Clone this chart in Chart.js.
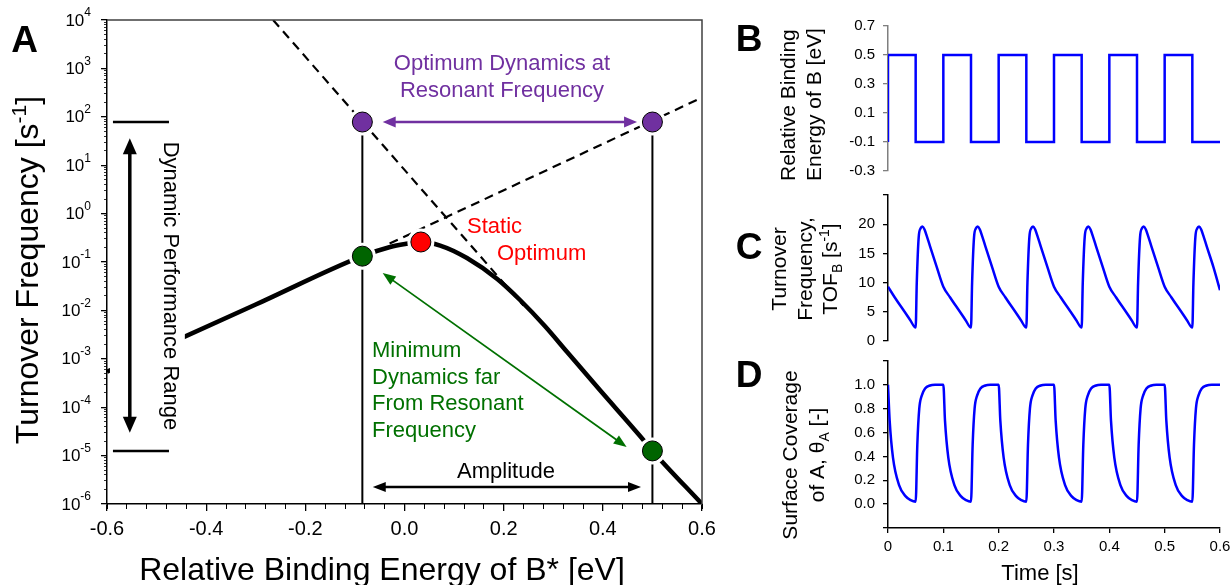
<!DOCTYPE html>
<html>
<head>
<meta charset="utf-8">
<script src="https://cdn.jsdelivr.net/npm/chart.js"></script>
<style>
  body { margin: 0; background: #fff; }
  #wrap { position: relative; width: 1232px; height: 585px; background: #fff; }
  canvas { position: absolute; }
</style>
</head>
<body>
<div id="wrap">
  <canvas id="panelA" width="720" height="585" style="left:0px;top:0px"></canvas>
  <canvas id="panelB" width="512" height="185" style="left:720px;top:0px"></canvas>
  <canvas id="panelC" width="512" height="170" style="left:720px;top:185px"></canvas>
  <canvas id="panelD" width="512" height="230" style="left:720px;top:355px"></canvas>
</div>
<script>
const FONT = '"Liberation Sans", Arial, Helvetica, sans-serif';
Chart.defaults.font.family = FONT;
Chart.defaults.color = '#000';

// ---- panel A: volcano plot ----
const energyTicks = [-0.6, -0.4, -0.2, 0, 0.2, 0.4, 0.6];
const tofExponents = [-6, -5, -4, -3, -2, -1, 0, 1, 2, 3, 4];

// solid curve, TOF [1/s] vs relative binding energy [eV]
const volcanoEnergy = [-0.6, -0.3, -0.085, -0.029, 0.001, 0.033, 0.072, 0.126, 0.187, 0.233, 0.283, 0.328, 0.394, 0.475, 0.5, 0.6];
const volcanoTOF = [5.4e-4, 0.0132, 0.132, 0.204, 0.235, 0.259, 0.219, 0.121, 0.0446, 0.0164, 0.00476, 0.00138, 2.26e-4, 2.54e-5, 1.25e-5, 1e-6];

// dashed asymptotes
const risingEnergy = [-0.03, 0.59];
const risingTOF = [0.24, 224];
const fallingEnergy = [-0.265, 0.24];
const fallingTOF = [1e4, 0.0126];

// markers
const resonantEnergy = [-0.085, 0.5];
const resonantTOF = [78, 78];
const farEnergy = [-0.085, 0.5];
const farTOF = [0.132, 1.25e-5];
const staticEnergy = [0.033];
const staticTOF = [0.259];

// amplitude guides and dynamic range bars
const guideTOF = [1e-6, 78];
const rangeEnergy = [-0.588, -0.475];

// ---- panels B-D: time series ----
const timeTicks = [0, 0.1, 0.2, 0.3, 0.4, 0.5, 0.6];
const bindingTicks = [-0.3, -0.1, 0.1, 0.3, 0.5, 0.7];
const tofTicks = [0, 5, 10, 15, 20, 25];
const coverageTicks = [-0.2, 0, 0.2, 0.4, 0.6, 0.8, 1.0, 1.2];

const timeB = [0, 0, 0.05, 0.05, 0.1, 0.1, 0.15, 0.15, 0.2, 0.2, 0.25, 0.25, 0.3, 0.3,
  0.35, 0.35, 0.4, 0.4, 0.45, 0.45, 0.5, 0.5, 0.55, 0.55, 0.6];
const bindingB = [-0.1, 0.5, 0.5, -0.1, -0.1, 0.5, 0.5, -0.1, -0.1, 0.5, 0.5, -0.1, -0.1, 0.5,
  0.5, -0.1, -0.1, 0.5, 0.5, -0.1, -0.1, 0.5, 0.5, -0.1, -0.1];

const timeC = [0, 0.012, 0.03, 0.04,
  0.05, 0.052, 0.0555, 0.059, 0.0622, 0.066, 0.07, 0.076, 0.088, 0.1, 0.112, 0.13, 0.14,
  0.15, 0.152, 0.1555, 0.159, 0.1622, 0.166, 0.17, 0.176, 0.188, 0.2, 0.212, 0.23, 0.24,
  0.25, 0.252, 0.2555, 0.259, 0.2622, 0.266, 0.27, 0.276, 0.288, 0.3, 0.312, 0.33, 0.34,
  0.35, 0.352, 0.3555, 0.359, 0.3622, 0.366, 0.37, 0.376, 0.388, 0.4, 0.412, 0.43, 0.44,
  0.45, 0.452, 0.4555, 0.459, 0.4622, 0.466, 0.47, 0.476, 0.488, 0.5, 0.512, 0.53, 0.54,
  0.55, 0.552, 0.5555, 0.559, 0.5622, 0.566, 0.57, 0.576, 0.588, 0.6];
const tofC = [9.3, 7.5, 5.0, 3.6,
  2.3, 10.0, 17.8, 19.3, 19.6, 19.1, 18.0, 16.2, 12.7, 9.3, 7.5, 5.0, 3.6,
  2.3, 10.0, 17.8, 19.3, 19.6, 19.1, 18.0, 16.2, 12.7, 9.3, 7.5, 5.0, 3.6,
  2.3, 10.0, 17.8, 19.3, 19.6, 19.1, 18.0, 16.2, 12.7, 9.3, 7.5, 5.0, 3.6,
  2.3, 10.0, 17.8, 19.3, 19.6, 19.1, 18.0, 16.2, 12.7, 9.3, 7.5, 5.0, 3.6,
  2.3, 10.0, 17.8, 19.3, 19.6, 19.1, 18.0, 16.2, 12.7, 9.3, 7.5, 5.0, 3.6,
  2.3, 10.0, 17.8, 19.3, 19.6, 19.1, 18.0, 16.2, 12.7, 8.7];

const timeD = [0, 0.003, 0.009, 0.02, 0.032, 0.041,
  0.05, 0.053, 0.0565, 0.061, 0.067, 0.076, 0.085,
  0.1, 0.103, 0.109, 0.12, 0.132, 0.141,
  0.15, 0.153, 0.1565, 0.161, 0.167, 0.176, 0.185,
  0.2, 0.203, 0.209, 0.22, 0.232, 0.241,
  0.25, 0.253, 0.2565, 0.261, 0.267, 0.276, 0.285,
  0.3, 0.303, 0.309, 0.32, 0.332, 0.341,
  0.35, 0.353, 0.3565, 0.361, 0.367, 0.376, 0.385,
  0.4, 0.403, 0.409, 0.42, 0.432, 0.441,
  0.45, 0.453, 0.4565, 0.461, 0.467, 0.476, 0.485,
  0.5, 0.503, 0.509, 0.52, 0.532, 0.541,
  0.55, 0.553, 0.5565, 0.561, 0.567, 0.576, 0.585, 0.6];
const coverageD = [1.0, 0.70, 0.39, 0.16, 0.065, 0.033,
  0.02, 0.5, 0.8, 0.91, 0.97, 0.995, 1.0,
  1.0, 0.70, 0.39, 0.16, 0.065, 0.033,
  0.02, 0.5, 0.8, 0.91, 0.97, 0.995, 1.0,
  1.0, 0.70, 0.39, 0.16, 0.065, 0.033,
  0.02, 0.5, 0.8, 0.91, 0.97, 0.995, 1.0,
  1.0, 0.70, 0.39, 0.16, 0.065, 0.033,
  0.02, 0.5, 0.8, 0.91, 0.97, 0.995, 1.0,
  1.0, 0.70, 0.39, 0.16, 0.065, 0.033,
  0.02, 0.5, 0.8, 0.91, 0.97, 0.995, 1.0,
  1.0, 0.70, 0.39, 0.16, 0.065, 0.033,
  0.02, 0.5, 0.8, 0.91, 0.97, 0.995, 1.0, 1.0];

const PURPLE = '#7030a0';
const GREEN = '#007000';
const DOT_GREEN = '#006400';
const RED = '#ff0000';
const BLUE = '#0000ff';

// helpers
const pts = (xs, ys) => xs.map((x, i) => ({ x: x, y: ys[i] }));

function zeroPad(s) {
  s.paddingLeft = 0; s.paddingRight = 0; s.paddingTop = 0; s.paddingBottom = 0;
}

function lineSet(xs, ys, color, width, dash, order) {
  return {
    data: pts(xs, ys), showLine: true, borderColor: color, borderWidth: width,
    borderDash: dash, pointRadius: 0, pointHoverRadius: 0, fill: false,
    order: order, xAxisID: 'x', yAxisID: 'y'
  };
}

function dotSet(xs, ys, color, radius, order) {
  return {
    data: pts(xs, ys), showLine: false, pointRadius: radius, pointHoverRadius: radius,
    pointBackgroundColor: color, pointBorderColor: color === '#fff' ? '#fff' : '#000',
    pointBorderWidth: color === '#fff' ? 0 : 1, order: order, xAxisID: 'x', yAxisID: 'y'
  };
}

function supFont(kind, size) {
  return (kind ? Math.round(size * 0.65) : size) + 'px ' + FONT;
}

// draw text made of normal / sup / sub pieces
function drawRich(ctx, parts, x, y, size, align) {
  let w = 0;
  parts.forEach(p => { ctx.font = supFont(p[1], size); w += ctx.measureText(p[0]).width; });
  let cx = align === 'center' ? x - w / 2 : (align === 'right' ? x - w : x);
  ctx.textAlign = 'left';
  parts.forEach(p => {
    ctx.font = supFont(p[1], size);
    const dy = p[1] === 'sup' ? -size * 0.38 : (p[1] === 'sub' ? size * 0.22 : 0);
    ctx.fillText(p[0], cx, y + dy);
    cx += ctx.measureText(p[0]).width;
  });
}

function arrow(ctx, x1, y1, x2, y2, color, width, head, headW, both) {
  const ang = Math.atan2(y2 - y1, x2 - x1);
  const ux = Math.cos(ang), uy = Math.sin(ang);
  const sx = both ? x1 + ux * head * 0.8 : x1, sy = both ? y1 + uy * head * 0.8 : y1;
  ctx.save();
  ctx.strokeStyle = color; ctx.fillStyle = color; ctx.lineWidth = width;
  ctx.beginPath();
  ctx.moveTo(sx, sy);
  ctx.lineTo(x2 - ux * head * 0.8, y2 - uy * head * 0.8);
  ctx.stroke();
  const tip = (tx, ty, dx, dy) => {
    ctx.beginPath();
    ctx.moveTo(tx, ty);
    ctx.lineTo(tx - dx * head - dy * headW / 2, ty - dy * head + dx * headW / 2);
    ctx.lineTo(tx - dx * head + dy * headW / 2, ty - dy * head - dx * headW / 2);
    ctx.closePath();
    ctx.fill();
  };
  tip(x2, y2, ux, uy);
  if (both) tip(x1, y1, -ux, -uy);
  ctx.restore();
}

// ---- panel A ----
const annotateA = {
  id: 'annotateA',
  afterDatasetsDraw(chart) {
    const ctx = chart.ctx;
    const xs = chart.scales.x, ys = chart.scales.y;
    const px = v => xs.getPixelForValue(v);
    const py = v => ys.getPixelForValue(v);
    ctx.save();

    // white box behind the rotated range label
    ctx.fillStyle = '#fff';
    ctx.fillRect(px(-0.594), py(50), px(-0.443) - px(-0.594), py(2e-5) - py(50));

    // arrows
    arrow(ctx, px(-0.044), py(78), px(0.469), py(78), PURPLE, 2.5, 13, 11, true);
    arrow(ctx, px(-0.044), py(0.059), px(0.448), py(1.5e-5), GREEN, 1.8, 13, 10, true);
    arrow(ctx, px(-0.064), py(2.25e-6), px(0.477), py(2.25e-6), '#000', 2.5, 13, 10, true);
    arrow(ctx, px(-0.554), py(36), px(-0.554), py(2.95e-5), '#000', 3.5, 16, 14, true);

    ctx.textBaseline = 'alphabetic';
    ctx.fillStyle = PURPLE;
    ctx.font = '22px ' + FONT;
    ctx.textAlign = 'center';
    ctx.fillText('Optimum Dynamics at', 502, 70);
    ctx.fillText('Resonant Frequency', 502, 97);

    ctx.fillStyle = RED;
    ctx.textAlign = 'left';
    ctx.fillText('Static', 467, 233);
    ctx.fillText('Optimum', 497, 260);

    ctx.fillStyle = GREEN;
    ['Minimum', 'Dynamics far', 'From Resonant', 'Frequency'].forEach((t, i) => {
      ctx.fillText(t, 372, 357 + i * 26.6);
    });

    ctx.fillStyle = '#000';
    ctx.textAlign = 'center';
    ctx.fillText('Amplitude', 506, 478);

    ctx.save();
    ctx.translate(164, 286);
    ctx.rotate(Math.PI / 2);
    ctx.textAlign = 'center';
    ctx.fillText('Dynamic Performance Range', 0, 0);
    ctx.restore();

    ctx.restore();
  },
  afterDraw(chart) {
    const ctx = chart.ctx;
    const a = chart.chartArea;
    const ys = chart.scales.y;
    ctx.save();
    // top and right frame
    ctx.strokeStyle = '#404040';
    ctx.lineWidth = 1.5;
    ctx.beginPath();
    ctx.moveTo(a.left, a.top);
    ctx.lineTo(a.right, a.top);
    ctx.lineTo(a.right, a.bottom);
    ctx.stroke();

    // log tick labels 10^n
    ctx.fillStyle = '#000';
    ctx.textBaseline = 'middle';
    tofExponents.forEach(e => {
      const y = ys.getPixelForValue(Math.pow(10, e));
      ctx.font = '12px ' + FONT;
      const ew = ctx.measureText(String(e)).width;
      ctx.textAlign = 'left';
      ctx.fillText(String(e), 91 - ew, y - 7);
      ctx.font = '17px ' + FONT;
      ctx.textAlign = 'right';
      ctx.fillText('10', 91 - ew, y + 1);
    });

    ctx.textBaseline = 'alphabetic';
    // axis titles
    ctx.save();
    ctx.translate(38, 270);
    ctx.rotate(-Math.PI / 2);
    drawRich(ctx, [['Turnover Frequency [s', ''], ['-1', 'sup'], [']', '']], 0, 0, 32, 'center');
    ctx.restore();
    ctx.font = '32px ' + FONT;
    ctx.textAlign = 'center';
    ctx.fillText('Relative Binding Energy of B* [eV]', 382, 580);

    ctx.font = 'bold 37px ' + FONT;
    ctx.fillText('A', 24.5, 52);
    ctx.restore();
  }
};

new Chart(document.getElementById('panelA'), {
  type: 'scatter',
  data: {
    datasets: [
      dotSet(resonantEnergy, resonantTOF, PURPLE, 10, 0),
      dotSet(farEnergy, farTOF, DOT_GREEN, 10, 0),
      dotSet(staticEnergy, staticTOF, RED, 10, 0),
      dotSet(resonantEnergy.concat(farEnergy, staticEnergy), resonantTOF.concat(farTOF, staticTOF), '#fff', 13.5, 1),
      Object.assign(lineSet(volcanoEnergy, volcanoTOF, '#000', 4.5, [], 2), { cubicInterpolationMode: 'monotone' }),
      lineSet(risingEnergy, risingTOF, '#000', 2.2, [9, 6], 3),
      lineSet(fallingEnergy, fallingTOF, '#000', 2.2, [9, 6], 3),
      lineSet([resonantEnergy[0], resonantEnergy[0]], guideTOF, '#000', 2, [], 4),
      lineSet([resonantEnergy[1], resonantEnergy[1]], guideTOF, '#000', 2, [], 4),
      lineSet(rangeEnergy, [resonantTOF[0], resonantTOF[0]], '#000', 2.5, [], 4),
      lineSet(rangeEnergy, [farTOF[1], farTOF[1]], '#000', 2.5, [], 4)
    ]
  },
  options: {
    responsive: false, animation: false, devicePixelRatio: 1,
    layout: { padding: { left: 0, top: 20, right: 18, bottom: 0 } },
    plugins: { legend: { display: false }, tooltip: { enabled: false } },
    scales: {
      x: {
        type: 'linear', position: 'bottom', min: -0.6, max: 0.6, weight: 1,
        afterBuildTicks: s => { s.ticks = energyTicks.map(v => ({ value: v })); },
        afterFit: s => { s.height = 81; zeroPad(s); },
        grid: { drawOnChartArea: false, tickLength: 7, color: '#000', lineWidth: 1.3 },
        border: { color: '#000', width: 1.5 },
        ticks: { font: { size: 20 }, color: '#000', padding: 6, maxRotation: 0, autoSkip: false,
                 callback: v => Number(v).toFixed(1) }
      },
      xMinor: {
        type: 'linear', position: 'bottom', min: -0.6, max: 0.6, weight: 0,
        afterBuildTicks: s => {
          const t = [];
          for (let i = 0; i <= 30; i++) t.push({ value: -0.6 + i * 0.04 });
          s.ticks = t;
        },
        afterFit: s => { s.height = 0; zeroPad(s); },
        grid: { drawOnChartArea: false, tickLength: 5, color: '#000', lineWidth: 1 },
        border: { display: false },
        ticks: { display: false }
      },
      y: {
        type: 'logarithmic', position: 'left', min: 1e-6, max: 1e4, weight: 1,
        afterBuildTicks: s => { s.ticks = tofExponents.map(e => ({ value: Math.pow(10, e) })); },
        afterFit: s => { s.width = 107; zeroPad(s); },
        grid: { drawOnChartArea: false, tickLength: 6, color: '#000', lineWidth: 1.3 },
        border: { color: '#000', width: 1.5 },
        ticks: { display: false }
      },
      yMinor: {
        type: 'logarithmic', position: 'left', min: 1e-6, max: 1e4, weight: 0,
        afterBuildTicks: s => {
          const t = [];
          tofExponents.slice(0, -1).forEach(e => {
            for (let m = 2; m <= 9; m++) t.push({ value: m * Math.pow(10, e) });
          });
          s.ticks = t;
        },
        afterFit: s => { s.width = 0; zeroPad(s); },
        grid: { drawOnChartArea: false, tickLength: 3, color: '#333', lineWidth: 1 },
        border: { display: false },
        ticks: { display: false }
      }
    }
  },
  plugins: [annotateA]
});

// ---- panels B, C, D ----
function timePanel(id, cfg) {
  return new Chart(document.getElementById(id), {
    type: 'scatter',
    data: {
      datasets: [{
        data: pts(cfg.t, cfg.v), showLine: true, borderColor: BLUE, borderWidth: 2.5,
        pointRadius: 0, pointHoverRadius: 0, fill: false,
        cubicInterpolationMode: cfg.smooth ? 'monotone' : 'default', tension: 0,
        xAxisID: 'x', yAxisID: 'y'
      }]
    },
    options: {
      responsive: false, animation: false, devicePixelRatio: 1,
      layout: { padding: cfg.padding },
      plugins: { legend: { display: false }, tooltip: { enabled: false } },
      scales: {
        x: {
          type: 'linear', min: 0, max: 0.6, display: cfg.showTime,
          afterBuildTicks: s => { s.ticks = timeTicks.map(v => ({ value: v })); },
          afterFit: s => { s.height = cfg.showTime ? 57 : 0; zeroPad(s); },
          grid: { drawOnChartArea: false, tickLength: 5, color: '#000', lineWidth: 1.3 },
          border: { color: '#000', width: 1.5 },
          ticks: { font: { size: 15 }, color: '#000', padding: 5, maxRotation: 0, autoSkip: false,
                   callback: v => (v === 0 ? '0' : Number(v).toFixed(1)) }
        },
        y: {
          type: 'linear', min: cfg.min, max: cfg.max,
          afterBuildTicks: s => { s.ticks = cfg.ticks.map(v => ({ value: v })); },
          afterFit: s => { s.width = 168; zeroPad(s); },
          grid: { drawOnChartArea: false, tickLength: 5, color: cfg.axisColor, lineWidth: 1.3 },
          border: { color: cfg.axisColor, width: 1.5 },
          ticks: { font: { size: 15 }, color: '#000', padding: 8, autoSkip: false, callback: cfg.label }
        }
      }
    },
    plugins: [{ id: 'text' + id, afterDraw: chart => {
      const ctx = chart.ctx;
      ctx.save();
      ctx.fillStyle = '#000';
      ctx.textBaseline = 'alphabetic';
      cfg.draw(ctx);
      ctx.restore();
    } }]
  });
}

function panelLetter(ctx, letter, y) {
  ctx.font = 'bold 37px ' + FONT;
  ctx.textAlign = 'center';
  ctx.fillText(letter, 29, y);
}

timePanel('panelB', {
  t: timeB, v: bindingB, smooth: false, showTime: false,
  min: -0.3, max: 0.7, ticks: bindingTicks, axisColor: '#7f7f7f',
  padding: { left: 0, top: 26, right: 12, bottom: 14 },
  label: v => Number(v).toFixed(1),
  draw: ctx => {
    panelLetter(ctx, 'B', 51);
    ctx.save();
    ctx.translate(75, 181);
    ctx.rotate(-Math.PI / 2);
    ctx.font = '21px ' + FONT;
    ctx.textAlign = 'left';
    ctx.fillText('Relative Binding', 0, 0);
    ctx.fillText('Energy of B [eV]', 0, 26);
    ctx.restore();
  }
});

timePanel('panelC', {
  t: timeC, v: tofC, smooth: true, showTime: false,
  min: 0, max: 25, ticks: tofTicks, axisColor: '#000',
  padding: { left: 0, top: 10, right: 12, bottom: 14 },
  label: v => (v > 20 ? '' : String(v)),
  draw: ctx => {
    panelLetter(ctx, 'C', 74);
    ctx.save();
    ctx.translate(66, 84);
    ctx.rotate(-Math.PI / 2);
    ctx.font = '21px ' + FONT;
    ctx.textAlign = 'center';
    ctx.fillText('Turnover', 0, 0);
    ctx.fillText('Frequency,', 0, 25.5);
    drawRich(ctx, [['TOF', ''], ['B', 'sub'], [' [s', ''], ['-1', 'sup'], [']', '']], 0, 51, 21, 'center');
    ctx.restore();
  }
});

timePanel('panelD', {
  t: timeD, v: coverageD, smooth: true, showTime: true,
  min: -0.2, max: 1.2, ticks: coverageTicks, axisColor: '#000',
  padding: { left: 0, top: 6, right: 12, bottom: 0 },
  label: v => (v < 0 || v > 1.05 ? '' : Number(v).toFixed(1)),
  draw: ctx => {
    panelLetter(ctx, 'D', 32);
    ctx.save();
    ctx.translate(77, 100);
    ctx.rotate(-Math.PI / 2);
    ctx.font = '21px ' + FONT;
    ctx.textAlign = 'center';
    ctx.fillText('Surface Coverage', 0, 0);
    drawRich(ctx, [['of A, \u03b8', ''], ['A', 'sub'], [' [-]', '']], 0, 27, 21, 'center');
    ctx.restore();
    ctx.font = '22px ' + FONT;
    ctx.textAlign = 'center';
    ctx.fillText('Time [s]', 320, 225);
  }
});
</script>
</body>
</html>
